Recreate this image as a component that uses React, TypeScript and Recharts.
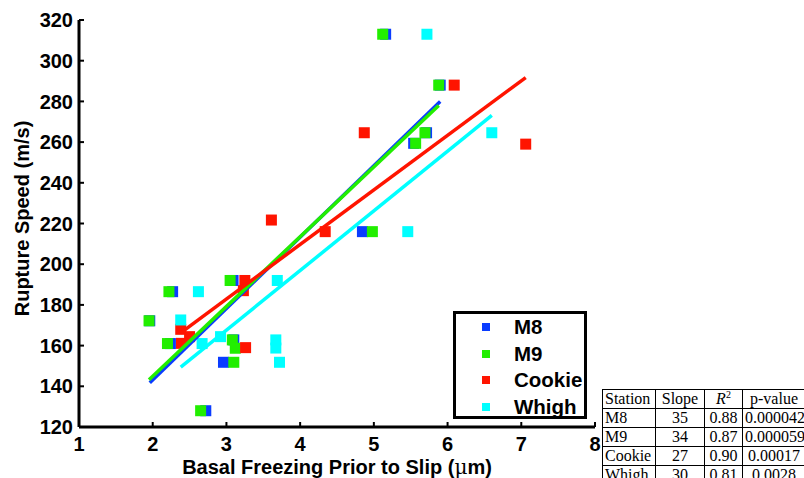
import { ScatterChart, Scatter, XAxis, YAxis, Legend } from 'recharts';

const stations = ['M8', 'M9', 'Cookie', 'Whigh'];
const colors = ['#0a3cff', '#22ee00', '#ff1400', '#00ffff'];

// points (basal freezing in µm, rupture speed in m/s)
const m8X = [5.16, 5.9, 5.715, 5.54, 4.845, 3.09, 2.27, 1.96, 2.24, 3.1, 2.96, 2.72];
const m8Y = [313, 288, 264.6, 259.4, 216, 192, 186.5, 172.2, 161, 162.8, 151.8, 128];

const m9X = [5.12, 5.88, 5.693, 5.567, 4.98, 3.05, 2.22, 1.95, 2.2, 3.08, 3.12, 3.1, 2.65];
const m9Y = [313, 288, 264.6, 259.4, 216, 192, 186.5, 172.2, 161, 162.8, 158.7, 151.8, 128];

const cookieX = [6.09, 4.87, 7.06, 4.34, 3.61, 3.25, 3.23, 2.38, 2.5, 2.39, 3.26];
const cookieY = [288, 264.6, 259, 216, 221.7, 192, 187, 168, 164.4, 161.1, 159];

const whighX = [5.72, 6.6, 5.46, 3.69, 2.62, 2.38, 2.67, 2.92, 3.67, 3.67, 3.72];
const whighY = [313, 264.6, 216, 192, 186.5, 172.6, 161, 164.4, 162.8, 158.8, 151.8];

// least-squares fits as drawn in the figure
const fitIntercept = [72.9, 76.3, 102.5, 79.7];
const fitSlope = [35.1, 34.3, 26.8, 29.3];

// table values
const tableSlope = ['35', '34', '27', '30'];
const tableR2 = ['0.88', '0.87', '0.90', '0.81'];
const tablePValue = ['0.000042', '0.000059', '0.00017', '0.0028'];

const xTicks = [1, 2, 3, 4, 5, 6, 7, 8];
const yTicks = [120, 140, 160, 180, 200, 220, 240, 260, 280, 300, 320];

const seriesX = [m8X, m9X, cookieX, whighX];
const seriesY = [m8Y, m9Y, cookieY, whighY];

const points = seriesX.map((xs, i) => xs.map((x, j) => ({ x, y: seriesY[i][j] })));

const fits = seriesX.map((xs, i) => {
  const lo = Math.min(...xs);
  const hi = Math.max(...xs);
  return [
    { x: lo, y: fitIntercept[i] + fitSlope[i] * lo },
    { x: hi, y: fitIntercept[i] + fitSlope[i] * hi },
  ];
});

const square = (color: string) => (props: any) => (
  <rect x={props.cx - 5.5} y={props.cy - 5.5} width={11} height={11} fill={color} />
);

const noShape = () => <g />;

const bold = { fontFamily: 'Liberation Sans, Arial, sans-serif', fontWeight: 700 };

function LegendBox() {
  return (
    <div
      style={{
        boxSizing: 'border-box',
        width: 134,
        height: 108,
        border: '3px solid #000',
        background: '#fff',
        paddingTop: 0,
      }}
    >
      {stations.map((s, i) => (
        <div key={s} style={{ display: 'flex', alignItems: 'center', height: 26.5 }}>
          <div style={{ width: 8, height: 8, background: colors[i], marginLeft: 26 }} />
          <span style={{ ...bold, fontSize: 20.5, marginLeft: 24, color: '#000', lineHeight: '24px' }}>{s}</span>
        </div>
      ))}
    </div>
  );
}

function XLabel(props: any) {
  const { viewBox } = props;
  const cx = viewBox.x + viewBox.width / 2;
  return (
    <text x={cx} y={viewBox.y + 47} textAnchor="middle" style={{ ...bold, fontSize: 20 }} fill="#000">
      Basal Freezing Prior to Slip (
      <tspan style={{ fontFamily: 'DejaVu Serif, serif', fontWeight: 400 }}>μ</tspan>m)
    </text>
  );
}

function YLabel(props: any) {
  const { viewBox } = props;
  const cy = viewBox.y + viewBox.height / 2 - 5;
  const cx = 29;
  return (
    <text
      x={cx}
      y={cy}
      transform={`rotate(-90 ${cx} ${cy})`}
      textAnchor="middle"
      style={{ ...bold, fontSize: 20 }}
      fill="#000"
    >
      Rupture Speed (m/s)
    </text>
  );
}

const cell = {
  border: '1px solid #000',
  padding: '0 2px',
  height: 19,
  lineHeight: '18px',
  whiteSpace: 'nowrap' as const,
  boxSizing: 'border-box' as const,
  overflow: 'hidden',
};

export default function App() {
  return (
    <div style={{ position: 'absolute', left: 0, top: 0, width: 804, height: 478, overflow: 'hidden', background: '#fff' }}>
      <ScatterChart width={804} height={478} margin={{ top: 20, right: 209, bottom: 0, left: 0 }}>
        <XAxis
          type="number"
          dataKey="x"
          domain={[1, 8]}
          ticks={xTicks}
          height={51}
          axisLine={{ stroke: '#000', strokeWidth: 3 }}
          tickLine={{ stroke: '#000', strokeWidth: 2 }}
          tickSize={-5}
          tickMargin={15}
          tick={{ ...bold, fontSize: 20, fill: '#000' }}
          label={<XLabel />}
        />
        <YAxis
          type="number"
          dataKey="y"
          domain={[120, 320]}
          ticks={yTicks}
          width={79}
          axisLine={{ stroke: '#000', strokeWidth: 3 }}
          tickLine={{ stroke: '#000', strokeWidth: 2 }}
          tickSize={-5}
          tickMargin={11}
          tick={{ ...bold, fontSize: 20, fill: '#000' }}
          label={<YLabel />}
        />
        {points.map((d, i) => (
          <Scatter key={stations[i]} name={stations[i]} data={d} shape={square(colors[i])} isAnimationActive={false} />
        ))}
        {fits.map((d, i) => (
          <Scatter
            key={'fit' + stations[i]}
            data={d}
            shape={noShape}
            line={{ stroke: colors[i], strokeWidth: 3.5 }}
            legendType="none"
            isAnimationActive={false}
          />
        ))}
        <Legend
          layout="vertical"
          align="center"
          verticalAlign="middle"
          content={<LegendBox />}
          wrapperStyle={{ left: 453, top: 311, width: 134, height: 108 }}
        />
      </ScatterChart>
      <table
        style={{
          position: 'absolute',
          left: 602,
          top: 389,
          width: 203,
          tableLayout: 'fixed',
          borderCollapse: 'collapse',
          fontFamily: 'Liberation Serif, Times New Roman, serif',
          fontSize: 16,
          color: '#000',
          background: '#fff',
        }}
      >
        <colgroup>
          <col style={{ width: 53 }} />
          <col style={{ width: 49 }} />
          <col style={{ width: 38 }} />
          <col style={{ width: 63 }} />
        </colgroup>
        <tbody>
          <tr>
            <td style={cell}>Station</td>
            <td style={{ ...cell, textAlign: 'center' }}>Slope</td>
            <td style={{ ...cell, textAlign: 'center' }}>
              <i>R</i>
              <sup style={{ fontSize: 10, lineHeight: 0 }}>2</sup>
            </td>
            <td style={{ ...cell, textAlign: 'center' }}>p-value</td>
          </tr>
          {stations.map((s, i) => (
            <tr key={s}>
              <td style={cell}>{s}</td>
              <td style={{ ...cell, textAlign: 'center' }}>{tableSlope[i]}</td>
              <td style={{ ...cell, textAlign: 'center' }}>{tableR2[i]}</td>
              <td style={{ ...cell, textAlign: 'center', overflow: 'visible' }}>{tablePValue[i]}</td>
            </tr>
          ))}
        </tbody>
      </table>
    </div>
  );
}
